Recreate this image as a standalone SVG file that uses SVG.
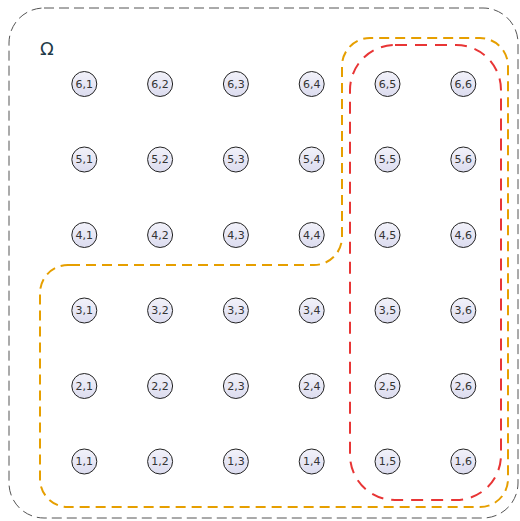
<svg xmlns="http://www.w3.org/2000/svg" width="520" height="521" viewBox="0 0 520 521">
<style>
.node circle{fill:url(#g);stroke:#222;stroke-width:1}
.node text{font-family:"DejaVu Sans",sans-serif;font-size:11px;fill:#333;text-anchor:middle;dominant-baseline:central}
</style>
<defs>
<linearGradient id="g" x1="0" y1="0" x2="0" y2="1"><stop offset="0" stop-color="#F2F2FA"/><stop offset="1" stop-color="#DCDCEF"/></linearGradient>
</defs>
<rect width="520" height="521" fill="#fff"/>
<g id="connectors" fill="none">
<rect x="9" y="8" width="509" height="510" rx="35" stroke="#555" stroke-width="1" stroke-dasharray="10,5"/>
<path d="M70,265 H314 A28,28 0 0 0 342,237 V66 A28,28 0 0 1 370,38 H480 A28,28 0 0 1 508,66 V479 A28,28 0 0 1 480,507 H68 A28,28 0 0 1 40,479 V293 A28,28 0 0 1 68,265 Z" stroke="#E69F00" stroke-width="2" stroke-dasharray="10,6"/>
<rect x="350" y="45" width="151" height="455" rx="45" stroke="#E83535" stroke-width="2" stroke-dasharray="12,8"/>
</g>
<text x="47" y="48" font-family="DejaVu Sans,sans-serif" font-size="18" fill="#1E3A48" text-anchor="middle" dominant-baseline="central">Ω</text>
<g id="n61" class="node"><circle cx="84.3" cy="84" r="12.5"/><text x="84.3" y="84">6,1</text></g>
<g id="n62" class="node"><circle cx="160.1" cy="84" r="12.5"/><text x="160.1" y="84">6,2</text></g>
<g id="n63" class="node"><circle cx="235.9" cy="84" r="12.5"/><text x="235.9" y="84">6,3</text></g>
<g id="n64" class="node"><circle cx="311.7" cy="84" r="12.5"/><text x="311.7" y="84">6,4</text></g>
<g id="n65" class="node"><circle cx="387.5" cy="84" r="12.5"/><text x="387.5" y="84">6,5</text></g>
<g id="n66" class="node"><circle cx="463.3" cy="84" r="12.5"/><text x="463.3" y="84">6,6</text></g>
<g id="n51" class="node"><circle cx="84.3" cy="159.5" r="12.5"/><text x="84.3" y="159.5">5,1</text></g>
<g id="n52" class="node"><circle cx="160.1" cy="159.5" r="12.5"/><text x="160.1" y="159.5">5,2</text></g>
<g id="n53" class="node"><circle cx="235.9" cy="159.5" r="12.5"/><text x="235.9" y="159.5">5,3</text></g>
<g id="n54" class="node"><circle cx="311.7" cy="159.5" r="12.5"/><text x="311.7" y="159.5">5,4</text></g>
<g id="n55" class="node"><circle cx="387.5" cy="159.5" r="12.5"/><text x="387.5" y="159.5">5,5</text></g>
<g id="n56" class="node"><circle cx="463.3" cy="159.5" r="12.5"/><text x="463.3" y="159.5">5,6</text></g>
<g id="n41" class="node"><circle cx="84.3" cy="235" r="12.5"/><text x="84.3" y="235">4,1</text></g>
<g id="n42" class="node"><circle cx="160.1" cy="235" r="12.5"/><text x="160.1" y="235">4,2</text></g>
<g id="n43" class="node"><circle cx="235.9" cy="235" r="12.5"/><text x="235.9" y="235">4,3</text></g>
<g id="n44" class="node"><circle cx="311.7" cy="235" r="12.5"/><text x="311.7" y="235">4,4</text></g>
<g id="n45" class="node"><circle cx="387.5" cy="235" r="12.5"/><text x="387.5" y="235">4,5</text></g>
<g id="n46" class="node"><circle cx="463.3" cy="235" r="12.5"/><text x="463.3" y="235">4,6</text></g>
<g id="n31" class="node"><circle cx="84.3" cy="310.5" r="12.5"/><text x="84.3" y="310.5">3,1</text></g>
<g id="n32" class="node"><circle cx="160.1" cy="310.5" r="12.5"/><text x="160.1" y="310.5">3,2</text></g>
<g id="n33" class="node"><circle cx="235.9" cy="310.5" r="12.5"/><text x="235.9" y="310.5">3,3</text></g>
<g id="n34" class="node"><circle cx="311.7" cy="310.5" r="12.5"/><text x="311.7" y="310.5">3,4</text></g>
<g id="n35" class="node"><circle cx="387.5" cy="310.5" r="12.5"/><text x="387.5" y="310.5">3,5</text></g>
<g id="n36" class="node"><circle cx="463.3" cy="310.5" r="12.5"/><text x="463.3" y="310.5">3,6</text></g>
<g id="n21" class="node"><circle cx="84.3" cy="386" r="12.5"/><text x="84.3" y="386">2,1</text></g>
<g id="n22" class="node"><circle cx="160.1" cy="386" r="12.5"/><text x="160.1" y="386">2,2</text></g>
<g id="n23" class="node"><circle cx="235.9" cy="386" r="12.5"/><text x="235.9" y="386">2,3</text></g>
<g id="n24" class="node"><circle cx="311.7" cy="386" r="12.5"/><text x="311.7" y="386">2,4</text></g>
<g id="n25" class="node"><circle cx="387.5" cy="386" r="12.5"/><text x="387.5" y="386">2,5</text></g>
<g id="n26" class="node"><circle cx="463.3" cy="386" r="12.5"/><text x="463.3" y="386">2,6</text></g>
<g id="n11" class="node"><circle cx="84.3" cy="461.5" r="12.5"/><text x="84.3" y="461.5">1,1</text></g>
<g id="n12" class="node"><circle cx="160.1" cy="461.5" r="12.5"/><text x="160.1" y="461.5">1,2</text></g>
<g id="n13" class="node"><circle cx="235.9" cy="461.5" r="12.5"/><text x="235.9" y="461.5">1,3</text></g>
<g id="n14" class="node"><circle cx="311.7" cy="461.5" r="12.5"/><text x="311.7" y="461.5">1,4</text></g>
<g id="n15" class="node"><circle cx="387.5" cy="461.5" r="12.5"/><text x="387.5" y="461.5">1,5</text></g>
<g id="n16" class="node"><circle cx="463.3" cy="461.5" r="12.5"/><text x="463.3" y="461.5">1,6</text></g>
</svg>
